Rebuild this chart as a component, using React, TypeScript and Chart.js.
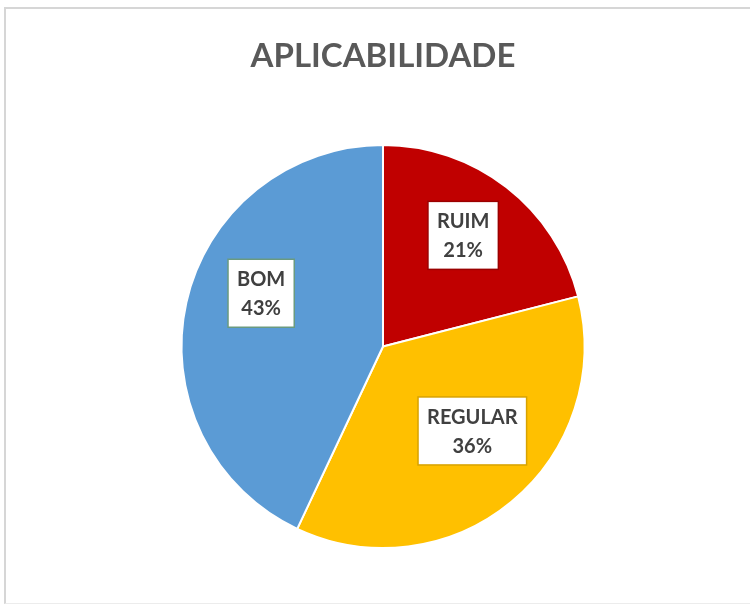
import React, { useEffect, useRef } from "react";
import { Chart, registerables } from "chart.js";

Chart.register(...registerables);

const categories = ["RUIM", "REGULAR", "BOM"];
const values = [21, 36, 43];
const colors = ["#C00000", "#FFC000", "#5B9BD5"];
const labelBorders = ["#9a0000", "#d8a200", "#6a9a80"];
// label placement relative to slice: angle offset (deg) and radius fraction
const labelAngleOffsets = [-2, -7, 11];
const labelRadiusFrac = [0.68, 0.61, 0.66];

const labelPlugin = {
  id: "boxLabels",
  afterDatasetsDraw(chart: any) {
    const ctx = chart.ctx;
    const meta = chart.getDatasetMeta(0);
    const data = chart.data.datasets[0].data as number[];
    const total = data.reduce((a, b) => a + b, 0);
    ctx.save();
    ctx.font = "bold 20px Lato";
    ctx.textAlign = "center";
    ctx.textBaseline = "middle";
    meta.data.forEach((arc: any, i: number) => {
      const p = arc.getProps(["x", "y", "startAngle", "endAngle", "outerRadius"], true);
      const mid = (p.startAngle + p.endAngle) / 2 + (labelAngleOffsets[i] * Math.PI) / 180;
      const r = p.outerRadius * labelRadiusFrac[i];
      const cx = p.x + Math.cos(mid) * r;
      const cy = p.y + Math.sin(mid) * r;
      const l1 = chart.data.labels[i] as string;
      const l2 = Math.round((data[i] / total) * 100) + "%";
      const w = Math.max(ctx.measureText(l1).width, ctx.measureText(l2).width) + 18;
      const lh = 29;
      const h = lh * 2 + 10;
      ctx.fillStyle = "#ffffff";
      ctx.fillRect(cx - w / 2, cy - h / 2, w, h);
      ctx.strokeStyle = labelBorders[i];
      ctx.lineWidth = 1.5;
      ctx.strokeRect(cx - w / 2, cy - h / 2, w, h);
      ctx.fillStyle = "#404040";
      ctx.fillText(l1, cx, cy - lh / 2 + 1);
      ctx.fillText(l2, cx, cy + lh / 2 + 1);
    });
    ctx.restore();
  },
};

export default function App() {
  const ref = useRef<HTMLCanvasElement | null>(null);
  useEffect(() => {
    if (!ref.current) return;
    const chart = new Chart(ref.current, {
      type: "pie",
      data: {
        labels: categories,
        datasets: [
          {
            data: values,
            backgroundColor: colors,
            borderColor: "#ffffff",
            borderWidth: 2,
          },
        ],
      },
      options: {
        responsive: false,
        animation: false,
        layout: { padding: { top: 0, bottom: 59, left: 16, right: 0 } },
        plugins: {
          legend: { display: false },
          tooltip: { enabled: false },
          title: {
            display: true,
            text: "APLICABILIDADE",
            color: "#595959",
            font: { family: "Lato", size: 33, weight: "bold", lineHeight: 1.2 },
            padding: { top: 37, bottom: 67.4 },
          },
        },
      },
      plugins: [labelPlugin],
    });
    return () => chart.destroy();
  }, []);
  return (
    <div style={{ position: "absolute", left: 0, top: 0, width: 750, height: 608, overflow: "hidden", background: "#ffffff" }}>
      <div
        style={{
          position: "absolute",
          left: 4,
          top: 7,
          width: 760,
          height: 594,
          borderTop: "2px solid #d6d6d6",
          borderLeft: "2px solid #d6d6d6",
          borderBottom: "1px solid #ececec",
        }}
      />
      <canvas ref={ref} width={750} height={608} style={{ position: "absolute", left: 0, top: 0, width: 750, height: 608 }} />
    </div>
  );
}
